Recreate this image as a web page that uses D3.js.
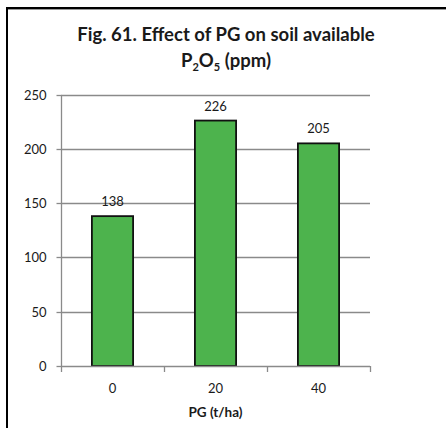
<!DOCTYPE html>
<html>
<head>
<meta charset="utf-8">
<script src="https://cdn.jsdelivr.net/npm/d3@7"></script>
<style>
  html, body { margin: 0; padding: 0; background: #fff; }
  svg { display: block; }
</style>
</head>
<body>
<svg id="chart" width="446" height="428"></svg>
<script>
// PG application rate (t/ha) and soil available P2O5 (ppm)
const categories = ["0", "20", "40"];
const values = [138, 226, 205];
const yTicks = [0, 50, 100, 150, 200, 250];
const titleLines = ["Fig. 61. Effect of PG on soil available"];
const xTitle = "PG (t/ha)";

const font = "Lato, 'Open Sans', sans-serif";
const svg = d3.select("#chart");

// outer frame (left and top edges)
svg.append("line").attr("x1", 7).attr("x2", 446).attr("y1", 9.5).attr("y2", 9.5)
  .attr("stroke", "#999").attr("stroke-width", 1);
svg.append("line").attr("x1", 7).attr("x2", 446).attr("y1", 8).attr("y2", 8)
  .attr("stroke", "#000").attr("stroke-width", 2);
svg.append("line").attr("x1", 7).attr("x2", 7).attr("y1", 7).attr("y2", 428)
  .attr("stroke", "#000").attr("stroke-width", 2);

const plot = { left: 61, right: 370, top: 94.5, bottom: 366 };

const x = d3.scaleBand().domain(categories).range([plot.left, plot.right])
  .paddingInner(0.6).paddingOuter(0.3);
const xOuter = d3.scaleBand().domain(categories).range([plot.left, plot.right]);
const y = d3.scaleLinear().domain([0, 250]).range([plot.bottom, plot.top]);

const gridColor = "#8a8a8a";
const labelColor = "#1a1a1a";

// horizontal gridlines
svg.append("g").selectAll("line").data(yTicks.filter(d => d > 0)).join("line")
  .attr("x1", plot.left).attr("x2", plot.right)
  .attr("y1", d => Math.round(y(d)) + 0.5).attr("y2", d => Math.round(y(d)) + 0.5)
  .attr("stroke", gridColor).attr("stroke-width", 1.3);

// y axis
const yAxis = svg.append("g").attr("transform", `translate(${plot.left + 0.5},0.5)`)
  .call(d3.axisLeft(y).tickValues(yTicks).tickSize(5).tickPadding(10).tickFormat(d3.format("d")));
yAxis.select(".domain").attr("stroke", gridColor).attr("stroke-width", 1.3)
  .attr("d", `M0,${plot.top}V${plot.bottom}`);
yAxis.selectAll(".tick line").attr("stroke", gridColor).attr("stroke-width", 1.3);
yAxis.selectAll(".tick").attr("transform", d => `translate(0,${Math.round(y(d))})`);
yAxis.selectAll("text").attr("font-family", font).attr("font-size", 13).attr("fill", labelColor);

// bars
svg.append("g").selectAll("rect").data(values).join("rect")
  .attr("x", (d, i) => x(categories[i]))
  .attr("y", d => y(d))
  .attr("width", x.bandwidth())
  .attr("height", d => y(0) - y(d))
  .attr("fill", "#4db34d")
  .attr("stroke", "#111")
  .attr("stroke-width", 1.8);

// x axis with ticks at category boundaries
const xAxisG = svg.append("g");
xAxisG.append("line").attr("x1", plot.left).attr("x2", plot.right)
  .attr("y1", plot.bottom + 0.5).attr("y2", plot.bottom + 0.5)
  .attr("stroke", gridColor).attr("stroke-width", 1.3);
const bounds = categories.map(c => xOuter(c)).concat([plot.right]);
xAxisG.selectAll("line.tk").data(bounds).join("line").attr("class", "tk")
  .attr("x1", d => Math.round(d) + 0.5).attr("x2", d => Math.round(d) + 0.5)
  .attr("y1", plot.bottom).attr("y2", plot.bottom + 6)
  .attr("stroke", gridColor).attr("stroke-width", 1.3);
xAxisG.selectAll("text").data(categories).join("text")
  .attr("x", d => x(d) + x.bandwidth() / 2)
  .attr("y", 393)
  .attr("text-anchor", "middle")
  .attr("font-family", font).attr("font-size", 13).attr("fill", labelColor)
  .text(d => d);

// x axis title
svg.append("text").attr("x", 215.5).attr("y", 417)
  .attr("text-anchor", "middle").attr("font-family", font)
  .attr("font-size", 13.5).attr("font-weight", "bold").attr("fill", labelColor)
  .text(xTitle);

// value labels
svg.append("g").selectAll("text").data(values).join("text")
  .attr("x", (d, i) => x(categories[i]) + x.bandwidth() / 2)
  .attr("y", d => y(d) - 10)
  .attr("text-anchor", "middle")
  .attr("font-family", font).attr("font-size", 13).attr("fill", labelColor)
  .text(d => d);

// chart title (two lines, second with subscripts)
const title = svg.append("g").attr("font-family", font).attr("font-weight", "bold")
  .attr("font-size", 18.5).attr("fill", labelColor).attr("text-anchor", "middle");
title.append("text").attr("x", 226).attr("y", 41).text(titleLines[0]);
const t2 = title.append("text").attr("x", 226).attr("y", 67);
t2.append("tspan").text("P");
t2.append("tspan").attr("font-size", 11).attr("dy", 4).text("2");
t2.append("tspan").attr("dy", -4).text("O");
t2.append("tspan").attr("font-size", 11).attr("dy", 4).text("5");
t2.append("tspan").attr("dy", -4).text(" (ppm)");
</script>
</body>
</html>
